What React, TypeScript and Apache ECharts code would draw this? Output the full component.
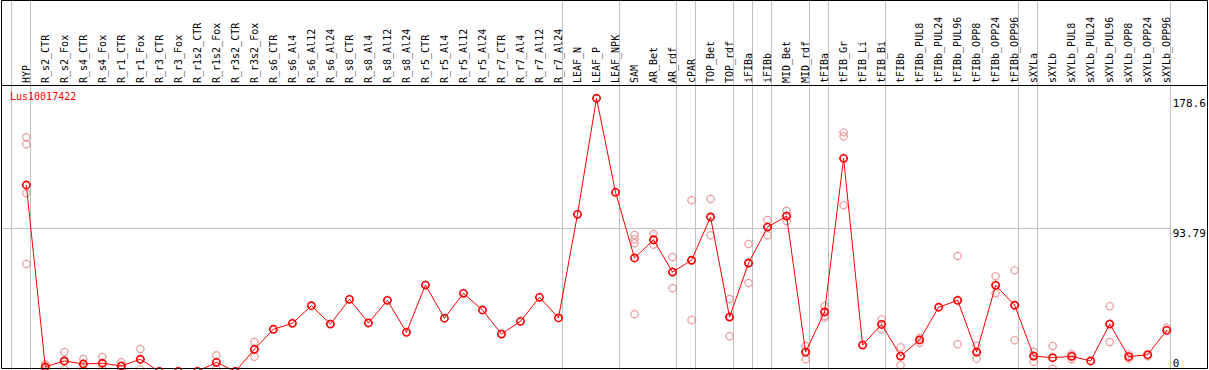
import React, { useEffect, useRef } from "react";
import * as echarts from "echarts";

const categories = [
  "HYP", "R_s2_CTR", "R_s2_Fox", "R_s4_CTR", "R_s4_Fox", "R_r1_CTR", "R_r1_Fox", "R_r3_CTR", "R_r3_Fox",
  "R_r1s2_CTR", "R_r1s2_Fox", "R_r3s2_CTR", "R_r3s2_Fox", "R_s6_CTR", "R_s6_Al4", "R_s6_Al12", "R_s6_Al24",
  "R_s8_CTR", "R_s8_Al4", "R_s8_Al12", "R_s8_Al24", "R_r5_CTR", "R_r5_Al4", "R_r5_Al12", "R_r5_Al24",
  "R_r7_CTR", "R_r7_Al4", "R_r7_Al12", "R_r7_Al24", "LEAF_N", "LEAF_P", "LEAF_NPK", "SAM", "AR_Bet", "AR_rdf",
  "cPAR", "TOP_Bet", "TOP_rdf", "iFIBa", "iFIBb", "MID_Bet", "MID_rdf", "tFIBa", "tFIB_Gr", "tFIB_Li", "tFIB_Bi",
  "tFIBb", "tFIBb_PUL8", "tFIBb_PUL24", "tFIBb_PUL96", "tFIBb_OPP8", "tFIBb_OPP24", "tFIBb_OPP96",
  "sXYLa", "sXYLb", "sXYLb_PUL8", "sXYLb_PUL24", "sXYLb_PUL96", "sXYLb_OPP8", "sXYLb_OPP24", "sXYLb_OPP96",
];

const meanValues = [
  121.9, 3.1, 6.9, 4.9, 5.4, 3.6, 8.0, 0, 0, 0, 6.0, 0, 14.5,
  27.6, 31.5, 43.0, 31.0, 47.2, 31.7, 46.5, 25.6, 56.5, 34.8, 51.1, 40.2, 24.5, 32.8, 48.5, 35.0,
  102.7, 178.6, 117.1, 74.2, 86.1, 65.0, 72.7, 101.0, 35.6, 70.9, 94.4, 101.6, 12.7, 38.9, 139.3, 17.3, 30.8,
  10.1, 20.6, 42.0, 46.5, 12.7, 56.3, 43.3, 10.1, 9.0, 9.9, 6.9, 31.0, 9.7, 11.0, 26.9,
];

const replicateValues: number[][] = [
  [153.1, 148.5, 116.5, 70.3],
  [4.7, 2.3, 2.3],
  [12.7, 6.6, 1.4],
  [8.2, 5.1, 1.4],
  [9.5, 5.3, 1.4],
  [6.0, 3.4, 1.4],
  [14.7, 7.9, 1.4],
  [0, 0, 0],
  [0, 0, 0],
  [0, 0, 0],
  [10.6, 6.0, 1.4],
  [0, 0, 0],
  [19.3, 14.5, 9.7],
  [], [], [], [], [], [], [], [], [], [], [], [], [], [], [], [],
  [], [], [],
  [89.2, 86.4, 83.8, 37.4],
  [89.9, 86.1, 82.9],
  [74.8, 65.0, 54.4],
  [111.9, 72.7, 33.7],
  [112.7, 101.0, 89.0],
  [47.4, 35.6, 23.0],
  [83.3, 70.9, 57.8],
  [99.0, 94.4, 89.0],
  [105.1, 101.6, 98.4],
  [16.7, 12.7, 8.0],
  [42.8, 36.3, 35.2],
  [156.3, 153.7, 108.6],
  [],
  [34.1, 30.8, 27.6],
  [15.8, 10.1, 4.1],
  [18.8, 21.9],
  [],
  [75.5, 46.5, 17.8],
  [16.9, 12.7, 8.4],
  [62.2, 56.3, 51.1],
  [66.1, 43.3, 20.4],
  [12.9, 10.1, 6.4],
  [16.7, 9.0, 1.8],
  [11.4, 9.9, 8.0],
  [],
  [42.6, 31.0, 19.3],
  [8.4, 11.2],
  [9.9],
  [28.6],
];

// categories after which a grey group separator is drawn
const groupEnds = [
  "HYP", "R_r7_Al24", "LEAF_NPK", "AR_rdf", "cPAR", "TOP_rdf", "iFIBa", "iFIBb",
  "MID_rdf", "tFIBa", "tFIB_Bi", "tFIBb_OPP96", "sXYLa", "sXYLb_OPP96",
];

const geneName = "Lus10017422";
const valueTickLabels = [93.79, 178.6];
const zeroTickLabel = [0];
const gridLineValues = [93.79];

// ---- layout (pixels) ----
const WIDTH = 1209;
const HEIGHT = 370;
const BAND = 19.007;
const FIRST_X = 26.3;
const HEADER_Y = 85;
const ZERO_Y = 371.5;
const PX_PER_UNIT = 1.53;
const FRAME_LEFT = 1;
const FRAME_RIGHT = 1170.7;
const SEP_OFFSET = 0.2;

const FONT = "DejaVu Sans Mono";
const SYMBOL =
  "path://M0.9,4.5A3.6,3.6,0,1,1,8.1,4.5A3.6,3.6,0,1,1,0.9,4.5ZM4.5,0L4.5,0.9M4.5,8.1L4.5,9M0,4.5L0.9,4.5M8.1,4.5L9,4.5";

export default function App() {
  const ref = useRef<HTMLDivElement>(null);

  useEffect(() => {
    if (!ref.current) return;
    const chart = echarts.init(ref.current, null, { renderer: "svg" });

    const gridALeft = FIRST_X - BAND / 2;
    const gridAWidth = BAND * categories.length;
    const yMaxA = (ZERO_Y - HEADER_Y) / PX_PER_UNIT;
    const yMaxB = ZERO_Y / PX_PER_UNIT;
    const xMinB = (FRAME_LEFT - FIRST_X) / BAND;
    const xMaxB = (FRAME_RIGHT - FIRST_X) / BAND;
    const separators = [-1, ...groupEnds.map((n) => categories.indexOf(n))].map((i) => i + SEP_OFFSET);

    const replicatePoints: [string, number][] = [];
    replicateValues.forEach((vals, i) => {
      vals.forEach((v) => replicatePoints.push([categories[i], v]));
    });

    chart.setOption({
      animation: false,
      backgroundColor: "#ffffff",
      title: {
        text: geneName,
        left: 10,
        top: 91,
        padding: 0,
        textStyle: { color: "#ff0000", fontSize: 10, fontFamily: FONT, fontWeight: "normal" },
      },
      grid: [
        {
          left: gridALeft,
          top: HEADER_Y,
          width: gridAWidth,
          height: ZERO_Y - HEADER_Y,
          containLabel: false,
          outerBoundsMode: "none",
        },
        {
          left: FRAME_LEFT,
          top: 0,
          width: FRAME_RIGHT - FRAME_LEFT,
          height: ZERO_Y,
          containLabel: false,
          outerBoundsMode: "none",
        },
      ],
      xAxis: [
        {
          gridIndex: 0,
          type: "category",
          data: categories,
          position: "top",
          boundaryGap: true,
          axisLine: { show: false },
          axisTick: { show: false },
          splitLine: { show: false },
          axisLabel: {
            interval: 0,
            rotate: 90,
            margin: 2,
            fontFamily: FONT,
            fontSize: 10,
            color: "#000000",
            hideOverlap: false,
          },
        },
        {
          gridIndex: 1,
          type: "value",
          min: xMinB,
          max: xMaxB,
          axisLine: { show: false },
          axisLabel: { show: false },
          axisTick: { show: false, customValues: separators },
          splitLine: { show: true, lineStyle: { color: "#c0c0c0", width: 1 } },
        },
      ],
      yAxis: [
        { gridIndex: 0, type: "value", min: 0, max: yMaxA, show: false },
        {
          gridIndex: 1,
          type: "value",
          min: 0,
          max: yMaxB,
          position: "right",
          axisLine: { show: false },
          axisTick: { show: false, customValues: gridLineValues },
          splitLine: { show: true, lineStyle: { color: "#c0c0c0", width: 1 } },
          axisLabel: {
            customValues: valueTickLabels,
            verticalAlign: "top",
            margin: 2,
            fontFamily: FONT,
            fontSize: 11,
            color: "#000000",
            formatter: (v: number) => String(v),
          },
        },
        {
          gridIndex: 1,
          type: "value",
          min: 0,
          max: yMaxB,
          position: "right",
          axisLine: { show: false },
          axisTick: { show: false },
          splitLine: { show: false },
          axisLabel: {
            customValues: zeroTickLabel,
            verticalAlign: "bottom",
            padding: [0, 0, 3, 0],
            margin: 2,
            fontFamily: FONT,
            fontSize: 11,
            color: "#000000",
            formatter: (v: number) => String(v),
          },
        },
      ],
      series: [
        {
          type: "scatter",
          name: "replicates",
          xAxisIndex: 0,
          yAxisIndex: 0,
          data: replicatePoints,
          symbol: SYMBOL,
          symbolSize: 9,
          itemStyle: { color: "rgba(0,0,0,0)", borderColor: "#e48787", borderWidth: 1.2 },
          silent: true,
          clip: false,
          z: 2,
        },
        {
          type: "line",
          name: geneName,
          xAxisIndex: 0,
          yAxisIndex: 0,
          data: meanValues,
          symbol: SYMBOL,
          symbolSize: 9,
          showAllSymbol: true,
          lineStyle: { color: "#ff0000", width: 1 },
          itemStyle: { color: "rgba(0,0,0,0)", borderColor: "#ff0000", borderWidth: 1.6 },
          clip: false,
          silent: true,
          z: 3,
        },
      ],
      graphic: [
        {
          type: "rect",
          z: 100,
          silent: true,
          shape: { x: 1.5, y: 0.5, width: 1206, height: 368 },
          style: { fill: "none", stroke: "#000000", lineWidth: 1 },
        },
        {
          type: "line",
          z: 100,
          silent: true,
          shape: { x1: 1.5, y1: HEADER_Y + 0.5, x2: 1207.5, y2: HEADER_Y + 0.5 },
          style: { stroke: "#000000", lineWidth: 1 },
        },
      ],
    });

    return () => chart.dispose();
  }, []);

  return (
    <div
      ref={ref}
      style={{ position: "absolute", left: 0, top: 0, width: WIDTH, height: HEIGHT, background: "#ffffff" }}
    />
  );
}
